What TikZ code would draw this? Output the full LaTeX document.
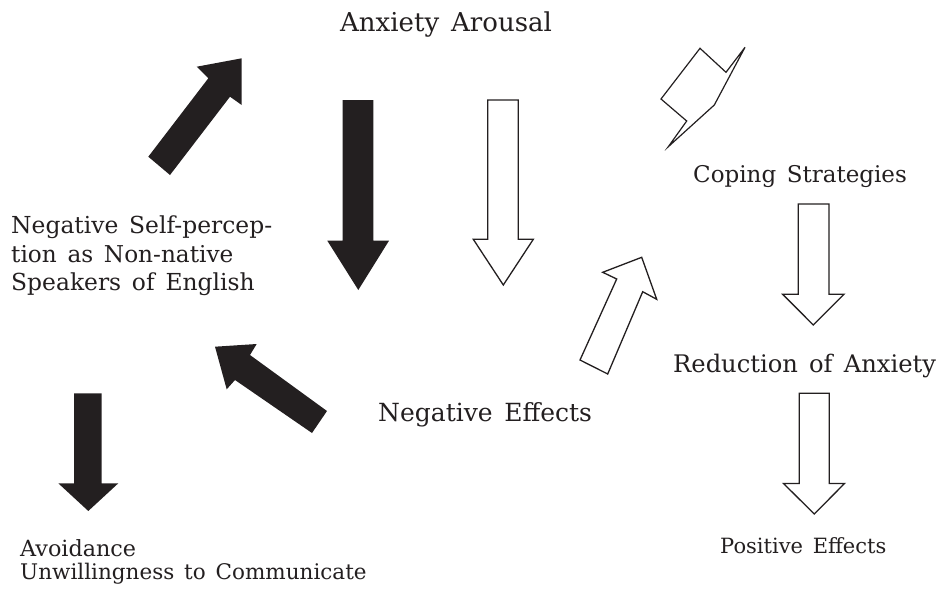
\documentclass[tikz,border=0pt]{standalone}
\usepackage{fontspec}
\setmainfont{DejaVu Serif}[WordSpace=1.45]
\definecolor{ink}{HTML}{231F20}
\begin{document}
\begin{tikzpicture}[x=1pt,y=-1pt,
  txt/.style={anchor=base west,inner sep=0pt,text=ink,font=\fontsize{#1}{#1}\selectfont},
  solidarrow/.style={fill=ink,draw=none},
  hollowarrow/.style={draw=ink,line width=1.3pt,fill=white,line join=miter}]
\useasboundingbox (0,0) rectangle (937,589);

% text
\node[txt=26] (arousal) at (340,31) {Anxiety Arousal};
\node[txt=23.4] (selfA) at (11,233) {Negative Self-percep-};
\node[txt=23.2] (selfB) at (11,262) {tion as Non-native};
\node[txt=23.4] (selfC) at (11,290) {Speakers of English};
\node[txt=23] (coping) at (693,182) {Coping Strategies};
\node[txt=24.2] (reduction) at (673,372) {Reduction of Anxiety};
\node[txt=25] (negeff) at (378,421) {Negative Effects};
\node[txt=21] (poseff) at (720,553) {Positive Effects};
\node[txt=22.3] (avoid) at (20,556) {Avoidance};
\node[txt=21.5] (unwill) at (20,579) {Unwillingness to Communicate};

% solid arrows
\fill[solidarrow] (241.7,58.3) -- (196.7,66.7) -- (208.3,78.3) -- (148.3,156.7)
  -- (170,175) -- (230,96.7) -- (241.7,105) -- cycle;
\fill[solidarrow] (342.7,100) -- (373.3,100) -- (373.3,240.7) -- (389,240.7)
  -- (358.3,290) -- (327.3,240.7) -- (342.7,240.7) -- cycle;
\fill[solidarrow] (215,346.7) -- (256.7,344) -- (250,355) -- (327,411)
  -- (312,433) -- (235,380) -- (226.7,389.3) -- cycle;
\fill[solidarrow] (74,393.3) -- (101.7,393.3) -- (101.7,483.3) -- (118.3,483.3)
  -- (88.3,511) -- (58.3,483.3) -- (74,483.3) -- cycle;

% hollow arrows
\draw[hollowarrow] (487.7,100) -- (518.3,100) -- (518.3,239.3) -- (533.3,239.3)
  -- (503.3,285) -- (473.3,239.3) -- (487.7,239.3) -- cycle;
\draw[hollowarrow] (641.7,257.3) -- (602.7,272.3) -- (616.7,279) -- (580,360)
  -- (607.7,374) -- (642.7,291.7) -- (656.7,299.3) -- cycle;
\draw[hollowarrow] (798.3,204) -- (829,204) -- (829,294.3) -- (844,294.3)
  -- (813.3,325) -- (782.7,294.3) -- (798.3,294.3) -- cycle;
\draw[hollowarrow] (799.3,393.3) -- (829.3,393.3) -- (829.3,483.5) -- (844.5,483.5)
  -- (814.3,514) -- (783.5,483.5) -- (799.3,483.5) -- cycle;

% bent outline arrow
\draw[hollowarrow,line width=1.2pt] (700,48.3) -- (726,72.3) -- (745,47.3) -- (714.3,105)
  -- (668.3,146.7) -- (686.7,121) -- (661,99) -- cycle;
\end{tikzpicture}
\end{document}
